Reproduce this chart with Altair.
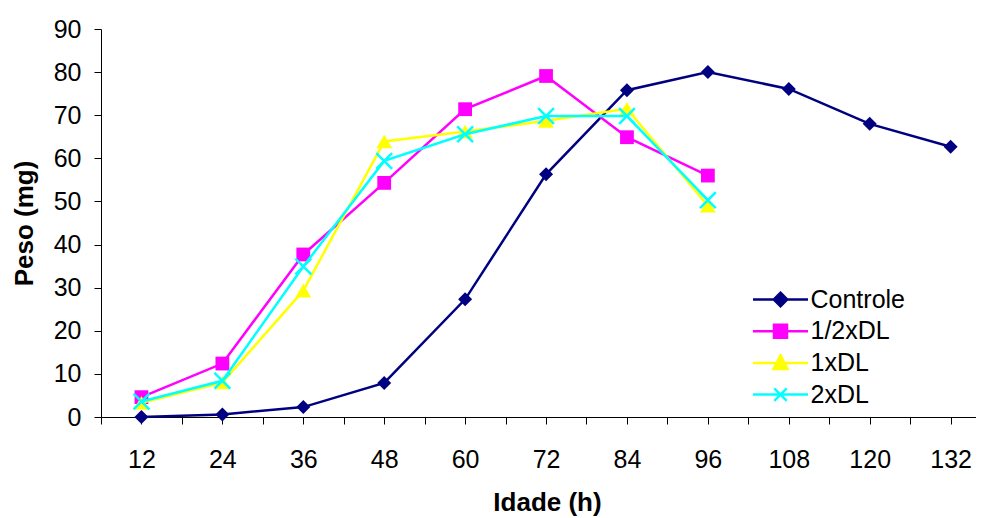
import altair as alt
import pandas as pd

# ---- data ----
hours_controle = [12, 24, 36, 48, 60, 72, 84, 96, 108, 120, 132]
controle = [0.0, 0.6, 2.3, 7.9, 27.3, 56.3, 75.8, 80.0, 76.1, 68.0, 62.7]

hours_dl = [12, 24, 36, 48, 60, 72, 84, 96]
meio_dl = [4.6, 12.4, 37.7, 54.3, 71.4, 79.1, 64.9, 56.0]
um_dl = [3.3, 8.0, 29.3, 63.9, 66.2, 68.7, 71.5, 49.0]
dois_dl = [3.6, 8.4, 34.9, 59.4, 65.6, 69.8, 69.8, 50.3]

series_names = ["Controle", "1/2xDL", "1xDL", "2xDL"]
series_colors = ["#000080", "#FF00FF", "#FFFF00", "#00FFFF"]

x_ticks = [6, 12, 18, 24, 30, 36, 42, 48, 54, 60, 66, 72, 78, 84, 90, 96,
           102, 108, 114, 120, 126, 132]
y_ticks = [0, 10, 20, 30, 40, 50, 60, 70, 80, 90]

# ---- tables ----
rows = []
for h, v in zip(hours_controle, controle):
    rows.append({"hora": h, "peso": v, "serie": "Controle"})
for name, vals in (("1/2xDL", meio_dl), ("1xDL", um_dl), ("2xDL", dois_dl)):
    for h, v in zip(hours_dl, vals):
        rows.append({"hora": h, "peso": v, "serie": name})
df = pd.DataFrame(rows)

X_PATH = "M-1,-1L1,1M-1,1L1,-1"
plot_shapes = {"Controle": "diamond", "1/2xDL": "square", "1xDL": "triangle-up", "2xDL": X_PATH}
plot_sizes = {"Controle": 196, "1/2xDL": 190, "1xDL": 250, "2xDL": 250}

# legend symbols: line segment plus marker (units of 5 px)
LINE = "M-5.5,0L5.5,0"
legend_paths = [
    LINE + "M0,-1.35L1.35,0L0,1.35L-1.35,0Z",
    LINE + "M-1.3,-1.3L1.3,-1.3L1.3,1.3L-1.3,1.3Z",
    LINE + "M0,-1.5L1.4,1.2L-1.4,1.2Z",
    LINE + "M-1.25,-1.25L1.25,1.25M-1.25,1.25L1.25,-1.25",
]

X_DOMAIN_MAX = 6 + 875 / 6.743

x_enc = alt.X(
    "hora:Q",
    scale=alt.Scale(domain=[6, X_DOMAIN_MAX], nice=False, zero=False),
    axis=alt.Axis(
        values=x_ticks,
        labelExpr="datum.value % 12 == 0 ? datum.value : ''",
        labelOverlap=False,
        labelFlush=False,
        tickSize=7,
        labelBaseline="alphabetic",
        labelPadding=43,
        title="Idade (h)",
        titleFontSize=26,
        titleFontWeight="bold",
        titleX=446,
        titleY=93,
        titleBaseline="alphabetic",
        titleAlign="center",
    ),
)
y_enc = alt.Y(
    "peso:Q",
    scale=alt.Scale(domain=[0, 90], nice=False),
    axis=alt.Axis(
        values=y_ticks,
        tickSize=7,
        labelPadding=13,
        title="Peso (mg)",
        titleFontSize=26,
        titleFontWeight="bold",
        titleAngle=-90,
        titleX=-69,
        titleY=194,
        titleBaseline="alphabetic",
        titleAlign="center",
    ),
)

layers = []
for name, color in zip(series_names, series_colors):
    base = alt.Chart(df).transform_filter(alt.datum.serie == name)
    line = base.mark_line(color=color, strokeWidth=2.5).encode(x=x_enc, y=y_enc)
    if name == "2xDL":
        pts = base.mark_point(shape=plot_shapes[name], filled=False, color=color,
                              strokeWidth=2.5, size=plot_sizes[name], opacity=1)
    else:
        pts = base.mark_point(shape=plot_shapes[name], filled=True, color=color,
                              size=plot_sizes[name], opacity=1)
    layers.append(line)
    layers.append(pts.encode(x=x_enc, y=y_enc))

leg_props = dict(
    orient="none", legendX=667, legendY=258, title=None, direction="vertical",
    labelFontSize=25, labelFont="Liberation Sans", labelColor="black",
    symbolSize=100, symbolStrokeWidth=2.5, labelOffset=17.5, rowPadding=5.7,
    padding=0,
)
legend_df = pd.DataFrame({"serie": series_names, "hora": [12] * 4, "peso": [0] * 4})
legend_layer = (
    alt.Chart(legend_df)
    .transform_filter("false")
    .mark_point(filled=True, opacity=1, strokeWidth=2.5)
    .encode(
        x=x_enc,
        y=y_enc,
        fill=alt.Fill("serie:N", scale=alt.Scale(domain=series_names, range=series_colors),
                      legend=alt.Legend(**leg_props)),
        stroke=alt.Stroke("serie:N", scale=alt.Scale(domain=series_names, range=series_colors),
                          legend=alt.Legend(**leg_props)),
        shape=alt.Shape("serie:N", scale=alt.Scale(domain=series_names, range=legend_paths),
                        legend=alt.Legend(**leg_props)),
    )
)
layers.append(legend_layer)

chart = (
    alt.layer(*layers)
    .properties(
        width=875,
        height=388,
        autosize=alt.AutoSizeParams(type="none"),
        padding={"left": 93, "top": 21, "right": 0, "bottom": 100},
        background="white",
    )
    .configure_view(stroke=None)
    .configure_axis(
        grid=False,
        domainColor="black",
        tickColor="black",
        domainWidth=1,
        tickWidth=1,
        labelFont="Liberation Sans",
        labelFontSize=25,
        labelColor="black",
        titleFont="Liberation Sans",
        titleColor="black",
    )
)

chart.save("out.html", embed_options={"renderer": "svg", "actions": False})
